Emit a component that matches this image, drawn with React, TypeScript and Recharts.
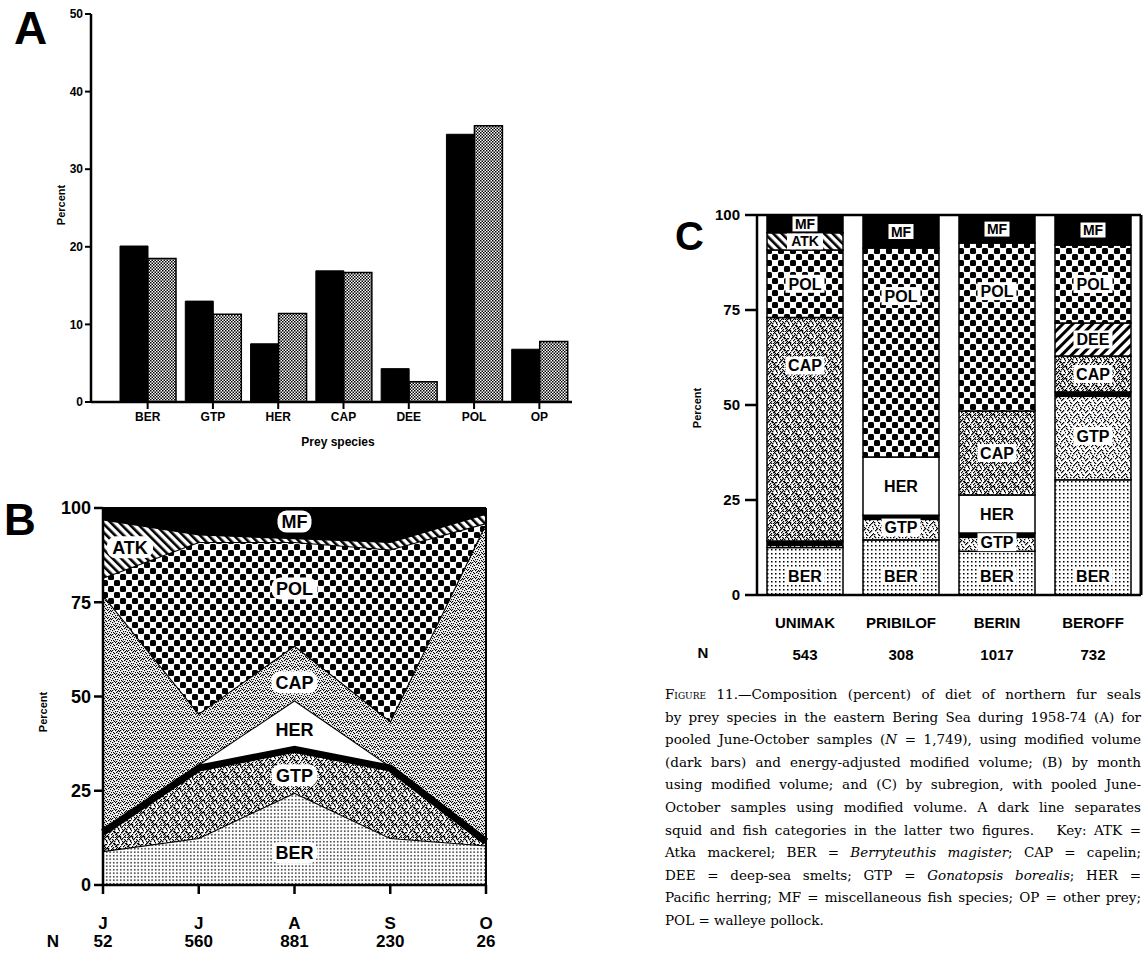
import React from 'react';
import {
  BarChart, Bar, XAxis, YAxis, ComposedChart, Area, Line,
  ReferenceDot, ReferenceLine, LabelList,
} from 'recharts';

const FONT = "'Liberation Sans', Arial, Helvetica, sans-serif";

// ---------- Panel A data ----------
const preyCategories = ['BER', 'GTP', 'HER', 'CAP', 'DEE', 'POL', 'OP'];
const modifiedVolume = [20.1, 13.0, 7.5, 16.9, 4.3, 34.5, 6.8];
const energyAdjustedVolume = [18.5, 11.3, 11.4, 16.7, 2.6, 35.6, 7.8];
const percentTicksA = [0, 10, 20, 30, 40, 50];

// ---------- Panel B data ----------
const months = ['Jun', 'Jul', 'Aug', 'Sep', 'Oct'];
const monthLetters = ['J', 'J', 'A', 'S', 'O'];
const monthN = [52, 560, 881, 230, 26];
const bBER = [9, 12.5, 24.5, 12.5, 10.5];
const bGTP = [5, 18.5, 11.5, 18.5, 1];
const bHER = [0, 1, 13, 0.5, 0];
const bCAP = [63, 13.5, 14.5, 12, 84.5];
const bPOL = [4.5, 45.5, 27.5, 45.5, 0];
const bATK = [15.5, 2, 1, 2, 2.5];
const bMF = [3, 7, 8, 9, 1.5];
const percentTicksBC = [0, 25, 50, 75, 100];

// ---------- Panel C data ----------
const regions = ['UNIMAK', 'PRIBILOF', 'BERIN', 'BEROFF'];
const regionN = [543, 308, 1017, 732];
const cBER = [12.5, 14.5, 11.5, 30.3];
const cGTP = [1.7, 6.5, 4.8, 23.1];
const cHER = [0, 15.3, 10, 0];
const cCAP = [58.8, 0, 22.1, 9.5];
const cDEE = [0, 0, 0, 8.7];
const cPOL = [17.8, 55, 44.2, 20.5];
const cATK = [4.5, 0, 0, 0];
const cMF = [4.7, 8.7, 7.4, 7.9];

// ---------- tables built from arrays ----------
const aData = preyCategories.map((c, i) => ({ cat: c, mv: modifiedVolume[i], ea: energyAdjustedVolume[i] }));
const bData = months.map((m, i) => ({
  month: m, BER: bBER[i], GTP: bGTP[i], HER: bHER[i], CAP: bCAP[i], POL: bPOL[i], ATK: bATK[i], MF: bMF[i],
  squidTop: bBER[i] + bGTP[i],
}));
const cData = regions.map((r, i) => ({
  region: r, BER: cBER[i], GTP: cGTP[i], HER: cHER[i], CAP: cCAP[i], DEE: cDEE[i], POL: cPOL[i], ATK: cATK[i], MF: cMF[i],
}));

const bStack = [bBER, bGTP, bHER, bCAP, bPOL, bATK, bMF];
const bNames = ['BER', 'GTP', 'HER', 'CAP', 'POL', 'ATK', 'MF'];
const bLabelPlaces = [
  { k: 0, i: 2, frac: 0.35, dx: 0 },
  { k: 1, i: 2, frac: 0.4, dx: 0 },
  { k: 2, i: 2, frac: 0.4, dx: 0 },
  { k: 3, i: 2, frac: 0.33, dx: 0 },
  { k: 4, i: 2, frac: 0.55, dx: 0 },
  { k: 5, i: 0, frac: 0.52, dx: 27 },
  { k: 6, i: 2, frac: 0.55, dx: 0 },
];
const stackBase = (k: number, i: number) => bStack.slice(0, k).reduce((s, a) => s + a[i], 0);

const speck = [[0, 0], [4, 1], [8, 0], [2, 3], [6, 3], [10, 2], [1, 6], [5, 5], [9, 6], [3, 8], [7, 8], [11, 9], [0, 10], [5, 11], [9, 11], [2, 5], [7, 1], [11, 4], [4, 10], [8, 7], [6, 6], [10, 10], [1, 1], [3, 4]];
const grain = [[0, 0], [3, 0], [5, 1], [1, 2], [4, 2], [2, 3], [6, 3], [0, 4], [3, 5], [5, 5], [1, 6], [7, 6], [4, 7], [7, 1], [2, 7], [6, 0]];

const axisStyle = { stroke: '#000', strokeWidth: 2.5 };

const MonthTick = (props: any) => {
  const { x, y, payload } = props;
  const i = months.indexOf(payload.value);
  return (
    <g>
      <text x={x} y={y + 34} textAnchor="middle" fontSize={17} fontWeight={700} fontFamily={FONT} fill="#000">{monthLetters[i]}</text>
      <text x={x} y={y + 52} textAnchor="middle" fontSize={17} fontWeight={700} fontFamily={FONT} fill="#000">{monthN[i]}</text>
    </g>
  );
};

const RegionTick = (props: any) => {
  const { x, y, payload } = props;
  const i = regions.indexOf(payload.value);
  return (
    <g>
      <text x={x} y={y + 31} textAnchor="middle" fontSize={15} fontWeight={700} fontFamily={FONT} fill="#000">{regions[i]}</text>
      <text x={x} y={y + 63} textAnchor="middle" fontSize={15} fontWeight={700} fontFamily={FONT} fill="#000">{regionN[i]}</text>
    </g>
  );
};

const bLabelShape = (text: string, dx: number) => (p: any) => {
  const cx = p.cx + dx;
  const cy = p.cy;
  const w = text.length * 12 + 10;
  return (
    <g>
      <rect x={cx - w / 2} y={cy - 11} width={w} height={22} rx={9} fill="#fff" />
      <text x={cx} y={cy + 6.5} textAnchor="middle" fontSize={18} fontWeight={700} fontFamily={FONT} fill="#000">{text}</text>
    </g>
  );
};

const cLabel = (name: string) => (props: any) => {
  const vb = props.viewBox && props.viewBox.width != null ? props.viewBox : props;
  const x = Number(vb.x), y = Number(vb.y), w = Number(vb.width);
  let h = Number(vb.height);
  let top = y;
  if (h < 0) { top = y + h; h = -h; }
  if (!(h > 13)) return null;
  let cy = top + h / 2;
  if (name === 'BER') cy = top + h - 19;
  else if (h > 150) cy = top + 48;
  const cx = x + w / 2;
  const small = name === 'MF' || name === 'ATK';
  const fs = small ? 14 : 16;
  const tw = name.length * (small ? 10 : 11) + 6;
  return (
    <g>
      <rect x={cx - tw / 2} y={cy - fs / 2 - 1} width={tw} height={fs + 2} fill="#fff" stroke={name === 'MF' ? '#000' : 'none'} strokeWidth={1} />
      <text x={cx} y={cy + fs * 0.36} textAnchor="middle" fontSize={fs} fontWeight={700} fontFamily={FONT} fill="#000">{name}</text>
    </g>
  );
};

const GtpShape = (p: any) => {
  const { x, y, width, height } = p;
  if (!height) return null;
  const lh = Math.min(5, height);
  return (
    <g>
      <rect x={x} y={y} width={width} height={height} fill="url(#pSpeck)" stroke="#000" strokeWidth={1.5} />
      <rect x={x} y={y} width={width} height={lh} fill="#000" />
    </g>
  );
};

const cSeries = [
  { key: 'BER', fill: 'url(#pDots)' },
  { key: 'GTP', fill: 'url(#pSpeck)' },
  { key: 'HER', fill: '#fff' },
  { key: 'CAP', fill: 'url(#pSpeckD)' },
  { key: 'DEE', fill: 'url(#pDee)' },
  { key: 'POL', fill: 'url(#pPol)' },
  { key: 'ATK', fill: 'url(#pAtk)' },
  { key: 'MF', fill: '#000' },
];

const bFills: Record<string, string> = {
  BER: 'url(#pDotsB)', GTP: 'url(#pSpeckD)', HER: '#fff', CAP: 'url(#pGrain)', POL: 'url(#pPol)', ATK: 'url(#pAtk)', MF: '#000',
};

const captionLines: React.ReactNode[] = [
  <><span style={{ fontVariant: 'small-caps' }}>Figure</span> 11.—Composition (percent) of diet of northern fur seals</>,
  <>by prey species in the eastern Bering Sea during 1958-74 (A) for</>,
  <>pooled June-October samples (<i>N</i> = 1,749), using modified volume</>,
  <>(dark bars) and energy-adjusted modified volume; (B) by month</>,
  <>using modified volume; and (C) by subregion, with pooled June-</>,
  <>October samples using modified volume. A dark line separates</>,
  <>squid and fish categories in the latter two figures.&nbsp;&nbsp; Key: ATK =</>,
  <>Atka mackerel; BER = <i>Berryteuthis magister</i>; CAP = capelin;</>,
  <>DEE = deep-sea smelts; GTP = <i>Gonatopsis borealis</i>; HER =</>,
  <>Pacific herring; MF = miscellaneous fish species; OP = other prey;</>,
  <>POL = walleye pollock.</>,
];

export default function App() {
  const tickA = { fill: '#000', fontSize: 12, fontWeight: 700, fontFamily: FONT };
  return (
    <div style={{ position: 'absolute', left: 0, top: 0, width: 1146, height: 959, background: '#fff', overflow: 'hidden' }}>
      <svg width={1146} height={959} style={{ position: 'absolute', left: 0, top: 0 }}>
        <defs>
          <pattern id="pA" width="3" height="3" patternUnits="userSpaceOnUse">
            <rect width="3" height="3" fill="#fff" />
            <rect width="1.5" height="1.5" fill="#000" />
            <rect x="1.5" y="1.5" width="1.5" height="1.5" fill="#000" />
          </pattern>
          <pattern id="pDots" width="4" height="4" patternUnits="userSpaceOnUse">
            <rect width="4" height="4" fill="#fff" />
            <rect x="1" y="1" width="1.5" height="1.5" fill="#000" />
          </pattern>
          <pattern id="pDotsB" width="3.5" height="3.5" patternUnits="userSpaceOnUse">
            <rect width="3.5" height="3.5" fill="#fff" />
            <rect x="1" y="1" width="1.4" height="1.4" fill="#000" />
          </pattern>
          <pattern id="pGrain" width="8" height="8" patternUnits="userSpaceOnUse">
            <rect width="8" height="8" fill="#fff" />
            {grain.map(([gx, gy], j) => <rect key={j} x={gx} y={gy} width="1.2" height="1.2" fill="#000" />)}
          </pattern>
          <pattern id="pSpeck" width="12" height="12" patternUnits="userSpaceOnUse">
            <rect width="12" height="12" fill="#fff" />
            {speck.map(([sx, sy], j) => <rect key={j} x={sx} y={sy} width="1.3" height="1.3" fill="#000" />)}
          </pattern>
          <pattern id="pSpeckD" width="12" height="12" patternUnits="userSpaceOnUse">
            <rect width="12" height="12" fill="#fff" />
            {speck.map(([sx, sy], j) => <rect key={j} x={sx} y={sy} width="1.3" height="1.3" fill="#000" />)}
            {speck.map(([sx, sy], j) => <rect key={'d' + j} x={(sx + 6) % 12} y={(sy + 5) % 12} width="1.2" height="1.2" fill="#000" />)}
          </pattern>
          <pattern id="pPol" width="12" height="12" patternUnits="userSpaceOnUse">
            <rect width="12" height="12" fill="#fff" />
            <rect x="0" y="0" width="6" height="6" rx="1.5" fill="#000" />
            <rect x="6" y="6" width="6" height="6" rx="1.5" fill="#000" />
          </pattern>
          <pattern id="pAtk" width="6" height="6" patternUnits="userSpaceOnUse" patternTransform="rotate(-45)">
            <rect width="6" height="6" fill="#fff" />
            <rect width="2.6" height="6" fill="#000" />
          </pattern>
          <pattern id="pDee" width="7" height="7" patternUnits="userSpaceOnUse" patternTransform="rotate(45)">
            <rect width="7" height="7" fill="#fff" />
            <rect width="3" height="7" fill="#000" />
          </pattern>
        </defs>
        <g fontFamily={FONT} fontWeight={700} fill="#000">
          <text x={14} y={44} fontSize={46}>A</text>
          <text x={4} y={535} fontSize={44}>B</text>
          <text x={675} y={250} fontSize={40}>C</text>
          <text x={0} y={0} fontSize={11} textAnchor="middle" transform="translate(65,205) rotate(-90)">Percent</text>
          <text x={0} y={0} fontSize={11} textAnchor="middle" transform="translate(47,712) rotate(-90)">Percent</text>
          <text x={0} y={0} fontSize={11} textAnchor="middle" transform="translate(701,408) rotate(-90)">Percent</text>
          <text x={338} y={446} fontSize={12} textAnchor="middle">Prey species</text>
          <text x={53} y={947} fontSize={17} textAnchor="middle">N</text>
          <text x={703} y={658} fontSize={15} textAnchor="middle">N</text>
        </g>
      </svg>

      {/* Panel A */}
      <div style={{ position: 'absolute', left: 0, top: 0 }}>
        <BarChart width={590} height={470} data={aData} margin={{ top: 14, right: 18, left: 0, bottom: 0 }} barGap={0} barSize={28}>
          <XAxis dataKey="cat" padding={{ left: 24, right: 0 }} height={68} tickSize={7} tickMargin={3}
            axisLine={axisStyle} tickLine={{ stroke: '#000', strokeWidth: 2 }} tick={tickA} interval={0} />
          <YAxis domain={[0, 50]} ticks={percentTicksA} width={91} tickSize={6} tickMargin={2}
            axisLine={axisStyle} tickLine={{ stroke: '#000', strokeWidth: 2 }} tick={tickA} interval={0} />
          <Bar dataKey="mv" fill="#000" stroke="#000" strokeWidth={1} isAnimationActive={false} />
          <Bar dataKey="ea" fill="url(#pA)" stroke="#000" strokeWidth={1.5} isAnimationActive={false} />
        </BarChart>
      </div>

      {/* Panel B */}
      <div style={{ position: 'absolute', left: 0, top: 490 }}>
        <ComposedChart width={500} height={469} data={bData} margin={{ top: 18, right: 10, left: 0, bottom: 0 }}>
          <XAxis dataKey="month" scale="point" padding={{ left: 0, right: 0 }} height={74} tickSize={9} tickMargin={1}
            axisLine={axisStyle} tickLine={{ stroke: '#000', strokeWidth: 2.5 }} tick={<MonthTick />} interval={0} />
          <YAxis domain={[0, 100]} ticks={percentTicksBC} width={103} tickSize={9} tickMargin={3}
            axisLine={axisStyle} tickLine={{ stroke: '#000', strokeWidth: 2.5 }}
            tick={{ fill: '#000', fontSize: 18, fontWeight: 700, fontFamily: FONT }} interval={0} />
          <YAxis yAxisId="r" orientation="right" width={4} domain={[0, 100]} tick={false} tickLine={false}
            axisLine={{ stroke: '#000', strokeWidth: 2 }} />
          {bNames.map((n) => (
            <Area key={n} type="linear" dataKey={n} stackId="b" fill={bFills[n]} fillOpacity={1}
              stroke="#000" strokeWidth={2.2} isAnimationActive={false} dot={false} activeDot={false} />
          ))}
          <Line type="linear" dataKey="squidTop" stroke="#000" strokeWidth={7} dot={false} activeDot={false} isAnimationActive={false} />
          {bLabelPlaces.map((pl) => (
            <ReferenceDot key={bNames[pl.k]} x={months[pl.i]}
              y={stackBase(pl.k, pl.i) + bStack[pl.k][pl.i] * pl.frac} r={0} ifOverflow="visible"
              shape={bLabelShape(bNames[pl.k], pl.dx)} />
          ))}
        </ComposedChart>
      </div>

      {/* Panel C */}
      <div style={{ position: 'absolute', left: 670, top: 200 }}>
        <BarChart width={476} height={470} data={cData} margin={{ top: 15, right: 0, left: 0, bottom: 0 }} barSize={76}>
          <XAxis dataKey="region" height={75} tickSize={0} tickLine={false} axisLine={axisStyle}
            tick={<RegionTick />} interval={0} />
          <YAxis domain={[0, 100]} ticks={percentTicksBC} width={87} tickSize={12} tickMargin={5}
            axisLine={axisStyle} tickLine={{ stroke: '#000', strokeWidth: 2.5 }}
            tick={{ fill: '#000', fontSize: 15, fontWeight: 700, fontFamily: FONT }} interval={0} />
          <YAxis yAxisId="r" orientation="right" width={5} domain={[0, 100]} tick={false} tickLine={false}
            axisLine={{ stroke: '#000', strokeWidth: 3 }} />
          <ReferenceLine y={100} stroke="#000" strokeWidth={2.5} />
          {cSeries.map((s) => (
            <Bar key={s.key} dataKey={s.key} stackId="c" fill={s.fill} stroke="#000" strokeWidth={1.5}
              isAnimationActive={false} shape={s.key === 'GTP' ? GtpShape : undefined}>
              <LabelList dataKey={s.key} content={cLabel(s.key)} />
            </Bar>
          ))}
        </BarChart>
      </div>

      {/* Caption */}
      <div style={{ position: 'absolute', left: 665, top: 683, width: 476, fontFamily: "'DejaVu Serif', serif", fontSize: 13.5, lineHeight: '22.6px', color: '#000' }}>
        {captionLines.map((ln, i) => (
          <div key={i} style={{ textAlign: 'justify', textAlignLast: i === captionLines.length - 1 ? 'left' : 'justify' }}>{ln}</div>
        ))}
      </div>
    </div>
  );
}
